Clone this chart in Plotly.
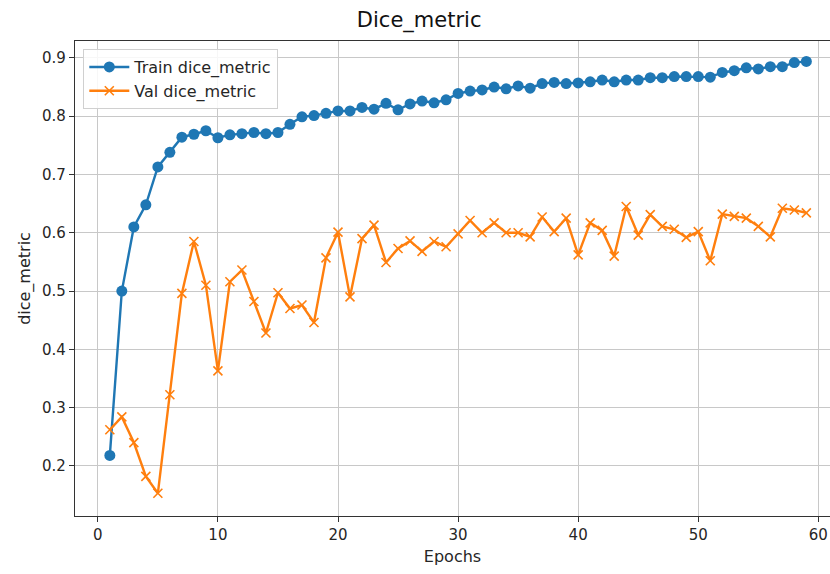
import plotly.graph_objects as go

epochs = list(range(1, 60))
train_dice = [0.218, 0.500, 0.610, 0.648, 0.713, 0.738, 0.764, 0.769, 0.775, 0.763,
              0.768, 0.770, 0.772, 0.770, 0.772, 0.786, 0.799, 0.801, 0.805, 0.809,
              0.809, 0.815, 0.812, 0.822, 0.811, 0.821, 0.826, 0.823, 0.828, 0.839,
              0.843, 0.845, 0.850, 0.847, 0.852, 0.848, 0.856, 0.858, 0.856, 0.857,
              0.859, 0.862, 0.859, 0.862, 0.862, 0.866, 0.866, 0.868, 0.868, 0.868,
              0.867, 0.875, 0.878, 0.883, 0.881, 0.885, 0.885, 0.892, 0.894]
val_dice = [0.262, 0.284, 0.240, 0.182, 0.153, 0.322, 0.496, 0.585, 0.510, 0.363,
            0.516, 0.536, 0.482, 0.428, 0.497, 0.470, 0.476, 0.446, 0.557, 0.601,
            0.490, 0.590, 0.613, 0.549, 0.573, 0.586, 0.568, 0.585, 0.576, 0.598,
            0.621, 0.600, 0.617, 0.600, 0.600, 0.593, 0.627, 0.602, 0.625, 0.562,
            0.617, 0.604, 0.560, 0.645, 0.596, 0.631, 0.611, 0.606, 0.592, 0.602,
            0.552, 0.632, 0.628, 0.625, 0.611, 0.593, 0.642, 0.639, 0.634]
x_ticks = [0, 10, 20, 30, 40, 50, 60]
y_ticks = [0.2, 0.3, 0.4, 0.5, 0.6, 0.7, 0.8, 0.9]

FONT = "DejaVu Sans"
BLUE = "#1f77b4"
ORANGE = "#ff7f0e"

fig = go.Figure()
fig.add_trace(go.Scatter(
    x=epochs, y=train_dice, mode="lines+markers", name="Train dice_metric",
    line=dict(color=BLUE, width=2.4),
    marker=dict(symbol="circle", size=11, color=BLUE),
))
fig.add_trace(go.Scatter(
    x=epochs, y=val_dice, mode="lines+markers", name="Val dice_metric",
    line=dict(color=ORANGE, width=2.4),
    marker=dict(symbol="x-thin", size=9, color=ORANGE,
                line=dict(color=ORANGE, width=1.6)),
))

fig.update_layout(
    width=830, height=574,
    margin=dict(l=75, r=0, t=41, b=58),
    paper_bgcolor="white", plot_bgcolor="white",
    font=dict(family=FONT, size=15, color="#262626"),
    title=dict(text="Dice_metric", x=0.505, xanchor="center",
               y=1 - 20 / 574, yanchor="middle",
               font=dict(family=FONT, size=21, color="#111111")),
    showlegend=True,
    legend=dict(x=0.011, y=0.983, xanchor="left", yanchor="top",
                bgcolor="rgba(255,255,255,0.85)", bordercolor="#d0d0d0",
                borderwidth=1, font=dict(family=FONT, size=16, color="#262626"),
                tracegroupgap=2, itemwidth=40),
)
fig.update_xaxes(
    range=[-1.9, 60.97], tickvals=x_ticks,
    ticktext=[str(v) for v in x_ticks],
    showgrid=True, gridcolor="#c8c8c8", gridwidth=1,
    showline=True, linecolor="#333333", linewidth=1.3, mirror=True,
    ticks="outside", ticklen=5, tickcolor="#333333",
    zeroline=False,
    title=dict(text="Epochs", font=dict(family=FONT, size=16), standoff=7),
)
fig.update_yaxes(
    range=[0.114, 0.929], tickvals=y_ticks,
    ticktext=[f"{v:.1f}" for v in y_ticks],
    showgrid=True, gridcolor="#c8c8c8", gridwidth=1,
    showline=True, linecolor="#333333", linewidth=1.3, mirror=False,
    ticks="outside", ticklen=5, tickcolor="#333333",
    zeroline=False,
    title=dict(text="dice_metric", font=dict(family=FONT, size=16), standoff=7),
)

fig.write_html("out.html")
